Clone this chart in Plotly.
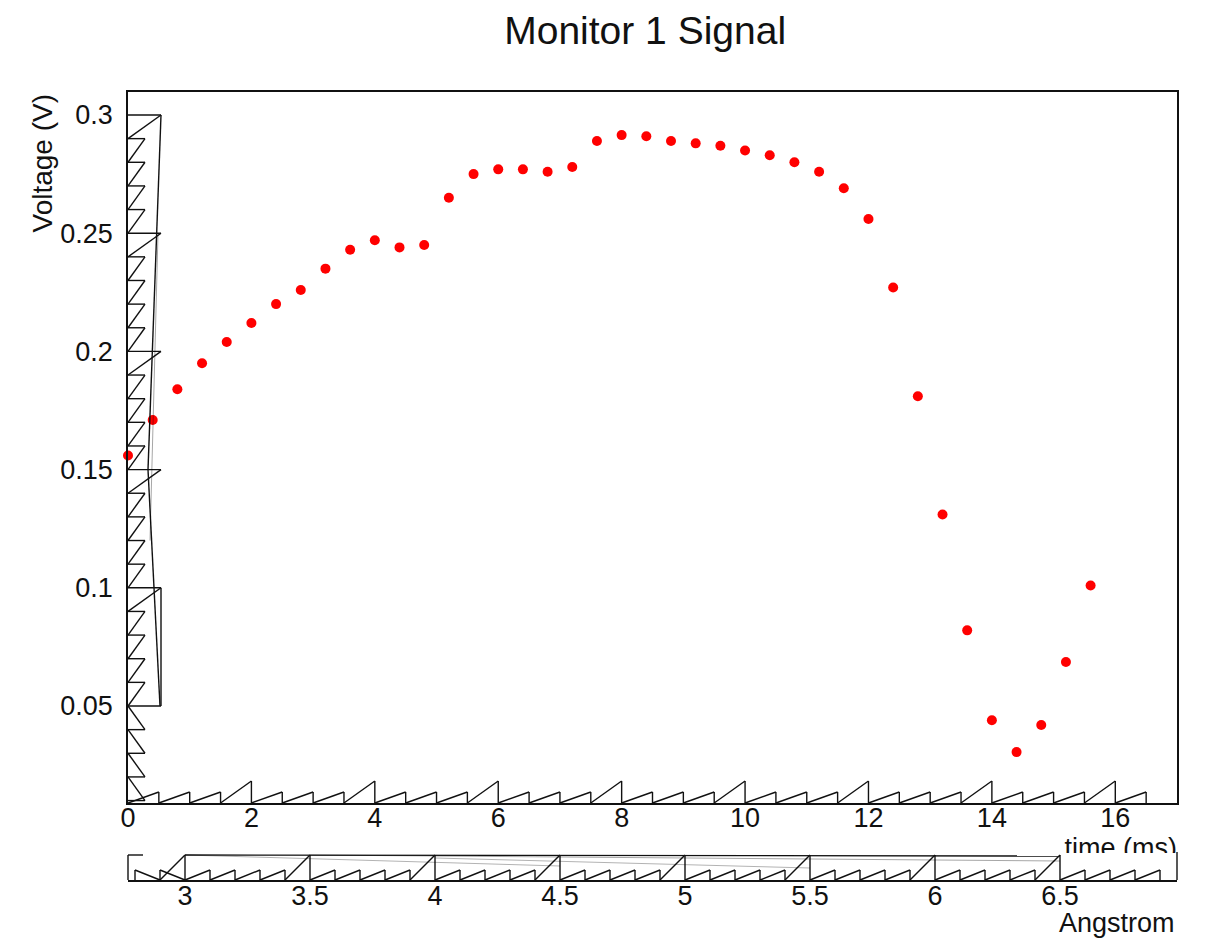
import numpy as np
import plotly.graph_objects as go

# ---- data ----
time_ms = [0.0, 0.4, 0.8, 1.2, 1.6, 2.0, 2.4, 2.8, 3.2, 3.6,
           4.0, 4.4, 4.8, 5.2, 5.6, 6.0, 6.4, 6.8, 7.2, 7.6,
           8.0, 8.4, 8.8, 9.2, 9.6, 10.0, 10.4, 10.8, 11.2, 11.6,
           12.0, 12.4, 12.8, 13.2, 13.6, 14.0, 14.4, 14.8, 15.2, 15.6]
voltage = [0.156, 0.171, 0.184, 0.195, 0.204, 0.212, 0.220, 0.226, 0.235, 0.243,
           0.247, 0.244, 0.245, 0.265, 0.275, 0.277, 0.277, 0.276, 0.278, 0.289,
           0.2915, 0.291, 0.289, 0.288, 0.287, 0.285, 0.283, 0.280, 0.276, 0.269,
           0.256, 0.227, 0.181, 0.131, 0.082, 0.044, 0.0305, 0.042, 0.0686, 0.101]

x_ticks = [0, 2, 4, 6, 8, 10, 12, 14, 16]
y_ticks = [0.05, 0.1, 0.15, 0.2, 0.25, 0.3]
y_ticktext = ["0.05", "0.1", "0.15", "0.2", "0.25", "0.3"]
ang_ticks = [3, 3.5, 4, 4.5, 5, 5.5, 6, 6.5]
ang_ticktext = ["3", "3.5", "4", "4.5", "5", "5.5", "6", "6.5"]

X_RANGE = [0, 17]
Y_RANGE = [0.00897, 0.30973]
ANG_RANGE = [2.772, 6.968]

# ---- geometry (pixels) ----
W, H = 1206, 939
ML, MR, MT, MB = 128, 29, 92, 59
PW = W - ML - MR          # 1049
PH = H - MT - MB          # 788
MAIN_BOTTOM = 77 / PH     # main frame bottom (y=803 px) in paper units
SEC_TOP = 27 / PH

FONT = "Liberation Sans, Arial, Helvetica, sans-serif"
LC = "#111111"

fig = go.Figure()
fig.add_trace(go.Scatter(x=time_ms, y=voltage, mode="markers",
                         marker=dict(color="#ff0000", size=10, symbol="circle"),
                         xaxis="x", yaxis="y", showlegend=False, cliponaxis=False))
# invisible trace to create the secondary (Angstrom) axis subplot
fig.add_trace(go.Scatter(x=[ANG_RANGE[0]], y=[0.5], mode="markers",
                         marker=dict(opacity=0), xaxis="x2", yaxis="y2",
                         showlegend=False, hoverinfo="skip"))
# clipped "time (ms)" label in a small overlay subplot
fig.add_trace(go.Scatter(x=[1.0], y=[0.06], mode="text", text=["time (ms)"],
                         textposition="middle left",
                         textfont=dict(family=FONT, size=27, color="#111"),
                         xaxis="x3", yaxis="y3", showlegend=False, hoverinfo="skip",
                         cliponaxis=True))

shapes = []

def line(x0, y0, x1, y1, xref, yref, color=LC, width=1.4):
    shapes.append(dict(type="line", x0=x0, y0=y0, x1=x1, y1=y1,
                       xref=xref, yref=yref, line=dict(color=color, width=width)))

# main x-axis sawtooth ticks
px = 1 / PH
for t in np.arange(0.5, 16.51, 0.5):
    h = (22 if abs(t / 2 - round(t / 2)) < 1e-9 else 11) * px
    line(t, MAIN_BOTTOM, t, MAIN_BOTTOM + h, "x", "paper")
    line(t - 0.5, MAIN_BOTTOM, t, MAIN_BOTTOM + h, "x", "paper")

# y-axis sawtooth ticks
qx = 1 / PW
for v in np.arange(0.01, 0.3001, 0.01):
    v = round(v, 2)
    major = abs(v / 0.05 - round(v / 0.05)) < 1e-9
    L = (33 if major else 17) * qx
    line(0, v, L, v, "paper", "y")
    if v > 0.05:
        line(L, v, 0, round(v - 0.01, 2), "paper", "y")
    elif v < 0.05:
        line(0, round(v + 0.01, 2), L, v, "paper", "y")
# long box on y axis
line(33 * qx, 0.3, 20 * qx, 0.15, "paper", "y")
line(20 * qx, 0.15, 32 * qx, 0.05, "paper", "y")
line(33 * qx, 0.1, 33 * qx, 0.05, "paper", "y")
line(30 * qx, 0.25, 22 * qx, 0.12, "paper", "y", color="rgba(0,0,0,0.35)", width=1)

# secondary (Angstrom) axis sawtooth ticks
for t in np.arange(2.8, 6.901, 0.1):
    t = round(t, 1)
    major = abs(t / 0.5 - round(t / 0.5)) < 1e-9
    h = (25 if major else 10) * px
    line(t, 0, t, h, "x2", "paper")
    if t < 3:
        line(t, h, round(t + 0.1, 1), 0, "x2", "paper")
    else:
        line(round(t - 0.1, 1), 0, t, h, "x2", "paper")
# top connecting line and faint fan lines
line(ang_ticks[0], 25 * px, ang_ticks[-1], 24 * px, "x2", "paper")
line(ang_ticks[0], 25 * px, ang_ticks[3], 14 * px, "x2", "paper", color="rgba(0,0,0,0.3)", width=1)
line(ang_ticks[1], 25 * px, ang_ticks[-1], 19 * px, "x2", "paper", color="rgba(0,0,0,0.35)", width=1)
line(ang_ticks[2], 22 * px, ang_ticks[5], 12 * px, "x2", "paper", color="rgba(0,0,0,0.3)", width=1)
# secondary frame pieces
line(0, 0, 0, 25 * px, "paper", "paper")
line(0, 25 * px, 15 * qx, 25 * px, "paper", "paper")
line(1, 0, 1, 28 * px, "paper", "paper")

axis_common = dict(showgrid=False, zeroline=False, showline=True, linecolor=LC,
                   linewidth=1.5, ticks="",
                   tickfont=dict(family=FONT, size=27, color="#111"))

fig.update_layout(
    width=W, height=H,
    margin=dict(l=ML, r=MR, t=MT, b=MB),
    paper_bgcolor="white", plot_bgcolor="white",
    title=dict(text="Monitor 1 Signal", x=0.493, xref="paper", xanchor="center",
               y=1 - 30 / H, yref="container", yanchor="middle",
               font=dict(family=FONT, size=39, color="#111")),
    xaxis=dict(axis_common, domain=[0, 1], anchor="y", range=X_RANGE,
               tickvals=x_ticks, ticktext=[str(t) for t in x_ticks],
               mirror=True, ticklabelstandoff=-10),
    yaxis=dict(axis_common, domain=[MAIN_BOTTOM, 1], anchor="x", range=Y_RANGE,
               tickvals=y_ticks, ticktext=y_ticktext, mirror=True,
               ticklabelstandoff=8),
    xaxis2=dict(axis_common, domain=[0, 1], anchor="y2", range=ANG_RANGE,
                tickvals=ang_ticks, ticktext=ang_ticktext, ticklabelstandoff=-9),
    yaxis2=dict(domain=[0, SEC_TOP], anchor="x2", range=[0, 1], visible=False),
    xaxis3=dict(domain=[0, 1], anchor="y3", range=[0, 1], visible=False),
    yaxis3=dict(domain=[SEC_TOP, MAIN_BOTTOM], anchor="x3", range=[0, 1], visible=False),
    shapes=shapes,
    annotations=[
        dict(text="Voltage (V)", textangle=-90, x=-86 / PW, y=1.0, xref="paper",
             yref="paper", xanchor="center", yanchor="top", showarrow=False,
             font=dict(family=FONT, size=28, color="#111")),
        dict(text="Angstrom", x=1.0, y=-(923 - 880) / PH, xref="paper", yref="paper",
             xanchor="right", yanchor="middle", showarrow=False,
             font=dict(family=FONT, size=27, color="#111")),
    ],
)

fig.write_html("out.html")
